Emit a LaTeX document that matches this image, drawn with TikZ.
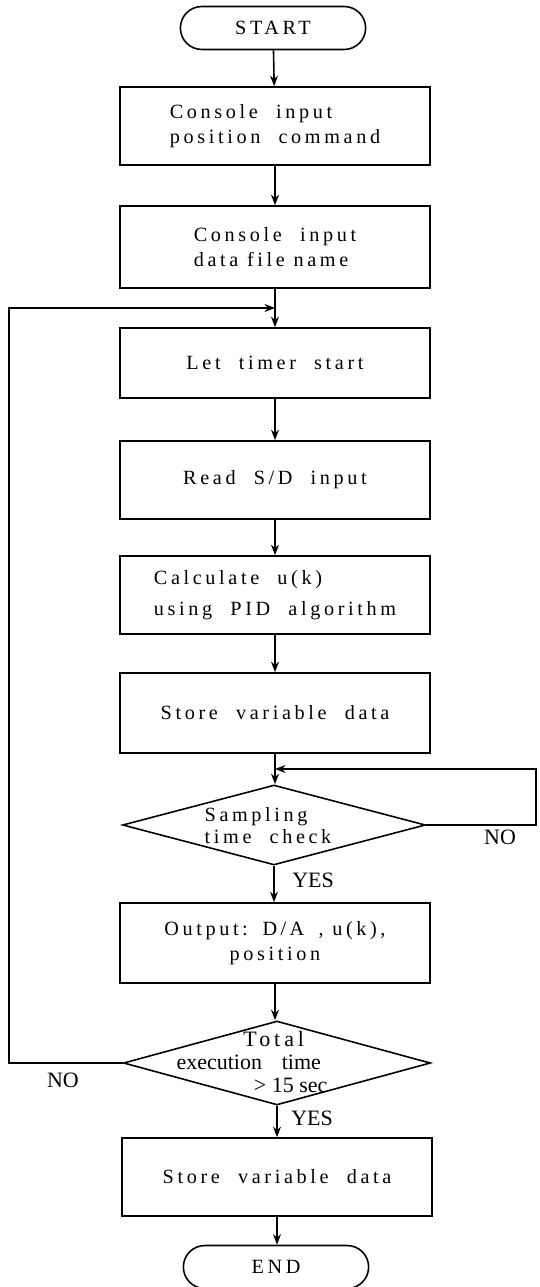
\documentclass[tikz,border=0pt]{standalone}
\usepackage{fontspec}
\setmainfont{Liberation Serif}
\newfontfamily\spaced[LetterSpace=18]{Liberation Serif}
\usetikzlibrary{shapes.geometric,shapes.misc,arrows.meta}
\newcommand\wgap{\hspace{0.9em}}

\begin{document}
\begin{tikzpicture}[x=0.02cm,y=-0.02cm,line width=0.9pt,
    proc/.style={draw,rectangle,minimum width=6.2cm,minimum height=1.56cm,
        align=left,font=\spaced\fontsize{11.5}{14.5}\selectfont},
    term/.style={draw,rounded rectangle,minimum width=3.94cm,minimum height=0.86cm,
        font=\spaced\fontsize{11.5}{14}\selectfont},
    decide/.style={draw,diamond,inner sep=0pt},
    lbl/.style={font=\fontsize{12.5}{14}\selectfont},
    flow/.style={-{Stealth[length=6pt,width=4.5pt]}}]
\useasboundingbox (0,0) rectangle (539,1287);
% boxes
\node[term] (start) at (273,28) {START};
\node[proc] (cmd) at (275,126) {Console\wgap input\\position\wgap command};
\node[proc,minimum height=1.64cm] (fname) at (275,247) {Console\wgap input\\data file name};
\node[proc,minimum height=1.4cm] (timer) at (275,363) {Let\wgap timer\wgap start};
\node[proc] (read) at (275,480) {Read\wgap S/D\wgap input};
\node[proc,font=\spaced\fontsize{11.5}{18}\selectfont] (calc) at (275,595) {Calculate\wgap u(k)\\using\wgap PID\wgap algorithm};
\node[proc,minimum height=1.6cm] (store) at (275,713) {Store\wgap variable\wgap data};
\node[decide,minimum width=6.06cm,minimum height=1.6cm] (samp) at (274,825) {};
\node[align=left,font=\spaced\fontsize{11.5}{12.5}\selectfont] (samptxt) at (268,826) {Sampling\\time\wgap check};
\node[proc,minimum height=1.6cm,align=center] (out) at (275,943) {Output\,:\, D\,/\,A\; , u(k),\\position};
\node[decide,minimum width=6.14cm,minimum height=1.68cm] (total) at (277,1063) {};
\node[align=left,font=\fontsize{12.5}{13}\selectfont] (totaltxt) at (252,1062)
    {\hspace{38pt}{\spaced Total}\\execution\wgap time\\\hspace{44pt}> 15 sec};
\node[proc] (save) at (277,1177) {Store\wgap variable\wgap data};
\node[term] (end) at (276,1267) {END};
% labels
\node[lbl] (yes1) at (313,880) {YES};
\node[lbl] (no1) at (500,837) {NO};
\node[lbl] (yes2) at (312,1118) {YES};
\node[lbl] (no2) at (63,1080) {NO};
% loop corners
\coordinate (rloop) at (536,769);
\coordinate (lloop) at (9,308);
% connectors
\draw[flow] (start) -- (cmd);
\draw[flow] (cmd) -- (fname);
\draw[flow] (fname) -- (timer);
\draw[flow] (timer) -- (read);
\draw[flow] (read) -- (calc);
\draw[flow] (calc) -- (store);
\draw[flow] (store) -- (store.south |- samp.north);
\draw[flow] (samp.south) -- (samp.south |- out.north);
\draw[flow] (out.south) -- (out.south |- total.north);
\draw[flow] (total.south) -- (total.south |- save.north);
\draw[flow] (save.south) -- (save.south |- end.north);
\draw[flow] (samp.east) -| (rloop) -- (store.south |- rloop);
\draw[flow] (total.west) -| (lloop) -- (timer.north |- lloop);
\end{tikzpicture}
\end{document}
